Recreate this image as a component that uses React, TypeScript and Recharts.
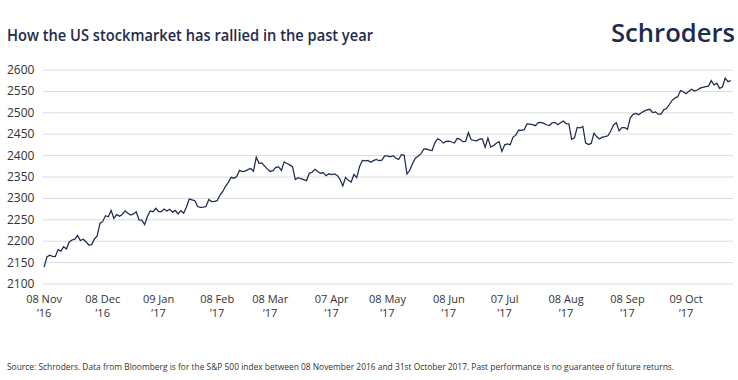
import React from 'react';
import { LineChart, Line, XAxis, YAxis, CartesianGrid } from 'recharts';

// S&P 500 daily closes, 08 Nov 2016 – 31 Oct 2017 (one value per trading day)
const nov16 = [2139.6, 2163.3, 2167.5, 2164.5, 2164.2, 2180.4, 2176.9, 2187.1, 2181.9, 2198.2, 2202.9, 2204.7, 2213.4, 2201.7, 2204.7, 2198.8];
const dec16 = [2191.1, 2192.0, 2204.7, 2212.2, 2241.4, 2246.2, 2259.5, 2257.0, 2271.7, 2253.3, 2262.0, 2258.1, 2262.5, 2270.8, 2265.2, 2261.0, 2263.8, 2268.9, 2249.9, 2249.3, 2238.8];
const jan17 = [2257.8, 2270.8, 2269.0, 2277.0, 2268.9, 2268.9, 2275.3, 2270.4, 2274.6, 2267.9, 2271.9, 2263.7, 2271.3, 2265.2, 2280.1, 2298.4, 2296.7, 2294.7, 2280.9, 2278.9];
const feb17 = [2279.6, 2280.9, 2297.4, 2292.6, 2293.1, 2294.7, 2307.9, 2316.1, 2328.3, 2337.6, 2349.3, 2347.2, 2351.2, 2365.4, 2362.8, 2363.8, 2367.3, 2369.8, 2363.6];
const mar17 = [2396.0, 2381.9, 2383.1, 2375.3, 2368.4, 2363.0, 2364.9, 2372.6, 2373.5, 2365.5, 2385.3, 2381.4, 2378.3, 2373.5, 2344.0, 2348.5, 2346.0, 2344.0, 2341.6, 2358.6, 2361.1, 2368.1, 2362.7];
const apr17 = [2358.8, 2360.2, 2353.0, 2357.5, 2355.5, 2357.2, 2353.8, 2344.9, 2329.0, 2349.0, 2342.2, 2338.2, 2355.8, 2348.7, 2374.2, 2388.6, 2387.5, 2388.8, 2384.2];
const may17 = [2388.3, 2391.2, 2388.1, 2389.5, 2399.3, 2399.4, 2396.9, 2399.6, 2394.4, 2390.9, 2402.3, 2400.7, 2357.0, 2365.7, 2381.7, 2394.0, 2398.4, 2404.4, 2415.1, 2415.8, 2412.9, 2411.8];
const jun17 = [2430.1, 2439.1, 2436.1, 2429.3, 2433.1, 2433.8, 2431.8, 2429.4, 2440.4, 2437.9, 2432.5, 2433.2, 2453.5, 2437.0, 2435.6, 2434.5, 2438.3, 2439.1, 2419.4, 2440.7, 2419.7, 2423.4];
const jul17 = [2429.0, 2432.5, 2409.8, 2425.2, 2427.4, 2425.5, 2443.3, 2447.8, 2459.3, 2459.1, 2460.6, 2473.8, 2473.5, 2472.5, 2469.9, 2477.1, 2477.8, 2475.4, 2472.1, 2470.3];
const aug17 = [2476.4, 2477.6, 2472.2, 2476.8, 2480.9, 2474.9, 2474.0, 2438.2, 2441.3, 2465.8, 2464.6, 2468.1, 2430.0, 2425.6, 2428.4, 2452.5, 2444.0, 2439.0, 2443.1, 2444.2, 2446.3, 2457.6, 2471.7];
const sep17 = [2476.6, 2457.9, 2465.5, 2465.1, 2461.4, 2488.1, 2496.5, 2498.4, 2495.6, 2500.2, 2503.9, 2506.7, 2508.2, 2500.6, 2502.2, 2496.7, 2496.8, 2507.0, 2510.1, 2519.4];
const oct17 = [2529.1, 2534.6, 2537.7, 2552.1, 2549.3, 2544.7, 2550.6, 2555.2, 2550.9, 2553.2, 2557.6, 2559.4, 2561.3, 2562.1, 2575.2, 2565.0, 2569.1, 2557.2, 2560.4, 2581.1, 2572.8, 2575.3];

// x-axis labels sit on these trading-day positions
const tickDays = [0, 21, 41, 62, 81, 103, 123, 145, 165, 187, 209, 230];
const tickDates = ['08 Nov', '08 Dec', '09 Jan', '08 Feb', '08 Mar', '07 Apr', '08 May', '08 Jun', '07 Jul', '08 Aug', '08 Sep', '09 Oct'];
const tickYears = ['\u201916', '\u201916', '\u201917', '\u201917', '\u201917', '\u201917', '\u201917', '\u201917', '\u201917', '\u201917', '\u201917', '\u201917'];

const yTicks = [2100, 2150, 2200, 2250, 2300, 2350, 2400, 2450, 2500, 2550, 2600];

const TITLE = 'How the US stockmarket has rallied in the past year';
const SOURCE =
  'Source: Schroders. Data from Bloomberg is for the S&P 500 index between 08 November 2016 and 31st October 2017. Past performance is no guarantee of future returns.';

const NAVY = '#1e2b4d';
const FONT = '"Open Sans", "Noto Sans", sans-serif';

const closes = [...nov16, ...dec16, ...jan17, ...feb17, ...mar17, ...apr17, ...may17, ...jun17, ...jul17, ...aug17, ...sep17, ...oct17];
const data = closes.map((v, i) => ({ day: i, close: v }));

const YTick = (props: any) => {
  const { y, payload } = props;
  return (
    <text x={7} y={y + 4} fontSize={12} fill="#333" fontFamily={FONT}>
      {payload.value}
    </text>
  );
};

const XTick = (props: any) => {
  const { x, payload } = props;
  const idx = tickDays.indexOf(payload.value);
  if (idx < 0) return null;
  return (
    <g>
      <text x={x} y={303} textAnchor="middle" fontSize={11} fill="#333" fontFamily={FONT}>
        {tickDates[idx]}
      </text>
      <text x={x} y={317} textAnchor="middle" fontSize={11} fill="#333" fontFamily={FONT}>
        {tickYears[idx]}
      </text>
    </g>
  );
};

export default function App() {
  return (
    <div style={{ position: 'absolute', left: 0, top: 0, width: 738, height: 380, background: '#fff' }}>
      <LineChart width={738} height={380} data={data} margin={{ top: 70, right: 5, bottom: 66, left: 0 }}>
        <CartesianGrid vertical={false} stroke="#dcdcdc" strokeWidth={1} />
        <XAxis
          dataKey="day"
          type="number"
          domain={[-0.4, 246.8]}
          ticks={tickDays}
          interval={0}
          axisLine={false}
          tickLine={false}
          height={30}
          tick={<XTick />}
        />
        <YAxis
          domain={[2100, 2600]}
          ticks={yTicks}
          interval={0}
          axisLine={false}
          tickLine={false}
          width={43}
          tick={<YTick />}
        />
        <Line
          type="linear"
          dataKey="close"
          stroke={NAVY}
          strokeWidth={1.25}
          dot={false}
          isAnimationActive={false}
        />
      </LineChart>
      <svg width={738} height={380} style={{ position: 'absolute', left: 0, top: 0, pointerEvents: 'none' }}>
        <text x={7} y={41} fontSize={16} fontWeight={600} fill={NAVY} fontFamily={FONT} textLength={366} lengthAdjust="spacingAndGlyphs">
          {TITLE}
        </text>
        <text x={611} y={42} fontSize={25} fontWeight={600} fill={NAVY} fontFamily={FONT} textLength={124} lengthAdjust="spacingAndGlyphs">
          Schroders
        </text>
        <text x={7} y={370} fontSize={9} fill="#333" fontFamily={FONT} textLength={667} lengthAdjust="spacingAndGlyphs">
          {SOURCE}
        </text>
      </svg>
    </div>
  );
}
